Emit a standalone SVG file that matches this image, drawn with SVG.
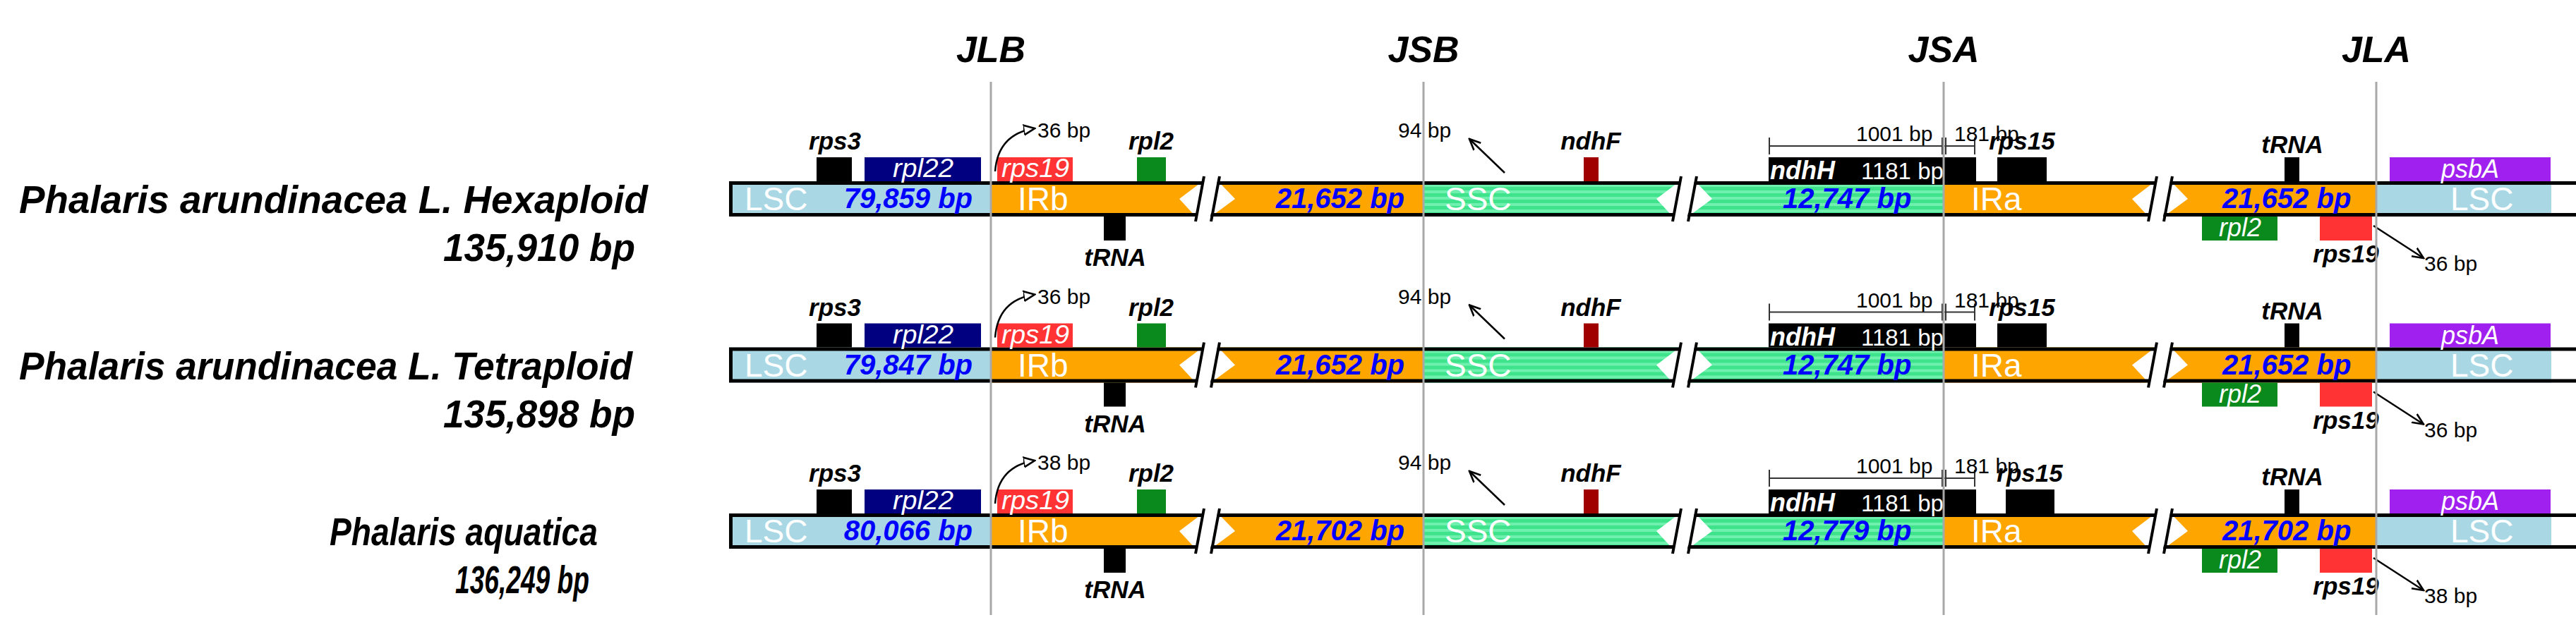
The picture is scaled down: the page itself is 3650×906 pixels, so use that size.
<svg xmlns="http://www.w3.org/2000/svg" width="3650" height="906" viewBox="0 0 3650 906">
<style>
text{font-family:"Liberation Sans",Arial,Helvetica,sans-serif}
.sp{font-size:55px;font-weight:bold;font-style:italic;fill:#000}
.jn{font-size:52px;font-weight:bold;font-style:italic;fill:#000;text-anchor:middle}
.gl{font-size:35px;font-weight:bold;font-style:italic;fill:#000;text-anchor:middle}
.wl{font-size:36px;font-style:italic;fill:#fff;text-anchor:middle}
.wb{font-size:36px;font-weight:bold;font-style:italic;fill:#fff}
.wn{font-size:33px;fill:#fff}
.num{font-size:40px;font-weight:bold;font-style:italic;fill:#0000ff}
.reg{font-size:46px;fill:#fff}
.bp{font-size:30px;fill:#000}
.lsc{fill:#a9d8e4}
.ir{fill:#ffa500}
.ssc{fill:url(#sscp)}
.outl{fill:none;stroke:#000;stroke-width:5}
.gap{fill:#fff}
.sl{stroke:#000;stroke-width:4;fill:none}
.blk{fill:#000}
.navy{fill:#000080}
.red{fill:#ff3333}
.grn{fill:#0a8a1c}
.dred{fill:#a00000}
.pur{fill:#a020f0}
.arr{stroke:#000;stroke-width:2.5;fill:none}
.dim{stroke:#333;stroke-width:2;fill:none}
.jl{stroke:#a8a8a8;stroke-width:3}
</style>
<defs>
<pattern id="sscp" patternUnits="userSpaceOnUse" width="10" height="9">
<rect width="10" height="9" fill="#3ee38c"/>
<rect width="10" height="4" fill="#6ff0ae"/>
</pattern>
<marker id="ah" viewBox="0 0 10 10" refX="9" refY="5" markerWidth="7" markerHeight="7" orient="auto" markerUnits="strokeWidth">
<path d="M0,1 L9,5 L0,9" fill="none" stroke="#000" stroke-width="1.5"/>
</marker>
<marker id="ah2" viewBox="0 0 10 10" refX="9" refY="5" markerWidth="7" markerHeight="7" orient="auto" markerUnits="strokeWidth">
<path d="M0,1 L9,5 L0,9 Z" fill="#fff" stroke="#000" stroke-width="1.5"/>
</marker>
</defs>
<rect width="3650" height="906" fill="#fff"/>

<g id="junction-labels">
<text class="jn" x="1404" y="88">JLB</text>
<text class="jn" x="2017" y="88">JSB</text>
<text class="jn" x="2754" y="88">JSA</text>
<text class="jn" x="3367" y="88">JLA</text>
</g>

<!-- Row 1 -->
<g id="row1">
<g id="row1-label">
<text class="sp" x="27" y="302" textLength="891" lengthAdjust="spacingAndGlyphs">Phalaris arundinacea L. Hexaploid</text>
<text class="sp" x="628" y="370" textLength="272" lengthAdjust="spacingAndGlyphs">135,910 bp</text>
</g>
<g id="row1-bar">
<rect class="lsc" x="1033" y="257" width="371" height="50"/>
<polygon class="ir" points="1404,257 1704,257 1671,282 1694,307 1404,307"/>
<polygon class="ir" points="1726,257 2017,257 2017,307 1716,307 1750,282"/>
<polygon class="ssc" points="2017,257 2380,257 2347,282 2370,307 2017,307"/>
<polygon class="ssc" points="2402,257 2754,257 2754,307 2392,307 2426,282"/>
<polygon class="ir" points="2754,257 3054,257 3021,282 3044,307 2754,307"/>
<polygon class="ir" points="3076,257 3367,257 3367,307 3066,307 3100,282"/>
<rect class="lsc" x="3367" y="257" width="248" height="50"/>
<rect class="outl" x="1035.5" y="259.5" width="3577" height="45"/>
<polygon class="gap" points="1706,252 1726,252 1714,312 1694,312"/>
<polygon class="gap" points="2382,252 2402,252 2390,312 2370,312"/>
<polygon class="gap" points="3056,252 3076,252 3064,312 3044,312"/>
<path class="sl" d="M1706,250 L1694,314 M1728,250 L1716,314 M2382,250 L2370,314 M2404,250 L2392,314 M3056,250 L3044,314 M3078,250 L3066,314"/>
<text class="reg" x="1055" y="298">LSC</text>
<text class="num" x="1378" y="295" text-anchor="end">79,859 bp</text>
<text class="reg" x="1442" y="298">IRb</text>
<text class="num" x="1990" y="295" text-anchor="end">21,652 bp</text>
<text class="reg" x="2047" y="298">SSC</text>
<text class="num" x="2526" y="295">12,747 bp</text>
<text class="reg" x="2793" y="298">IRa</text>
<text class="num" x="3149" y="295">21,652 bp</text>
<text class="reg" x="3472" y="298">LSC</text>
</g>
<g id="row1-rps3"><rect class="blk" x="1157" y="223" width="50" height="34"/><text class="gl" x="1183" y="212">rps3</text></g>
<g id="row1-rpl22"><rect class="navy" x="1225" y="223" width="165" height="34"/><text class="wl" x="1308" y="251" textLength="86" lengthAdjust="spacingAndGlyphs">rpl22</text></g>
<g id="row1-rps19a"><rect class="red" x="1413" y="223" width="107" height="34"/><text class="wl" x="1467" y="251" textLength="96" lengthAdjust="spacingAndGlyphs">rps19</text></g>
<g id="row1-rpl2a"><rect class="grn" x="1611" y="223" width="41" height="34"/><text class="gl" x="1631" y="212">rpl2</text></g>
<g id="row1-trnaa"><rect class="blk" x="1564" y="307" width="31" height="34"/><text class="gl" x="1580" y="377">tRNA</text></g>
<g id="row1-ndhF"><rect class="dred" x="2244" y="223" width="21" height="34"/><text class="gl" x="2254" y="212">ndhF</text></g>
<g id="row1-ndhH"><rect class="blk" x="2506" y="223" width="294" height="34"/><text class="wb" x="2508" y="254">ndhH</text><text class="wn" x="2637" y="254">1181 bp</text></g>
<g id="row1-rps15"><rect class="blk" x="2830" y="223" width="70" height="34"/><text class="gl" x="2865" y="212">rps15</text></g>
<g id="row1-trnab"><rect class="blk" x="3237" y="223" width="21" height="34"/><text class="gl" x="3248" y="217">tRNA</text></g>
<g id="row1-psbA"><rect class="pur" x="3386" y="223" width="228" height="34"/><text class="wl" x="3500" y="252">psbA</text></g>
<g id="row1-rpl2b"><rect class="grn" x="3120" y="307" width="107" height="34"/><text class="wl" x="3174" y="335">rpl2</text></g>
<g id="row1-rps19b"><rect class="red" x="3287" y="307" width="74" height="34"/><text class="gl" x="3324" y="372">rps19</text></g>
<g id="row1-annot">
<path class="arr" d="M1410,243 Q1414,190 1466,182" marker-end="url(#ah2)"/>
<text class="bp" x="1470" y="195">36 bp</text>
<text class="bp" x="1981" y="195">94 bp</text>
<path class="arr" d="M2132,245 L2082,197" marker-end="url(#ah)"/>
<path class="dim" d="M2507,207 L2798,207 M2507,195 L2507,219 M2752,195 L2752,219 M2757,195 L2757,219 M2798,195 L2798,219"/>
<text class="bp" x="2630" y="200">1001 bp</text>
<text class="bp" x="2769" y="200">181 bp</text>
<path class="arr" d="M3363,320 L3434,366" marker-end="url(#ah)"/>
<text class="bp" x="3435" y="384">36 bp</text>
</g>
</g>

<!-- Row 2 -->
<g id="row2" transform="translate(0,235.5)">
<g id="row2-label">
<text class="sp" x="27" y="302" textLength="869" lengthAdjust="spacingAndGlyphs">Phalaris arundinacea L. Tetraploid</text>
<text class="sp" x="628" y="370" textLength="272" lengthAdjust="spacingAndGlyphs">135,898 bp</text>
</g>
<g id="row2-bar">
<rect class="lsc" x="1033" y="257" width="371" height="50"/>
<polygon class="ir" points="1404,257 1704,257 1671,282 1694,307 1404,307"/>
<polygon class="ir" points="1726,257 2017,257 2017,307 1716,307 1750,282"/>
<polygon class="ssc" points="2017,257 2380,257 2347,282 2370,307 2017,307"/>
<polygon class="ssc" points="2402,257 2754,257 2754,307 2392,307 2426,282"/>
<polygon class="ir" points="2754,257 3054,257 3021,282 3044,307 2754,307"/>
<polygon class="ir" points="3076,257 3367,257 3367,307 3066,307 3100,282"/>
<rect class="lsc" x="3367" y="257" width="248" height="50"/>
<rect class="outl" x="1035.5" y="259.5" width="3577" height="45"/>
<polygon class="gap" points="1706,252 1726,252 1714,312 1694,312"/>
<polygon class="gap" points="2382,252 2402,252 2390,312 2370,312"/>
<polygon class="gap" points="3056,252 3076,252 3064,312 3044,312"/>
<path class="sl" d="M1706,250 L1694,314 M1728,250 L1716,314 M2382,250 L2370,314 M2404,250 L2392,314 M3056,250 L3044,314 M3078,250 L3066,314"/>
<text class="reg" x="1055" y="298">LSC</text>
<text class="num" x="1378" y="295" text-anchor="end">79,847 bp</text>
<text class="reg" x="1442" y="298">IRb</text>
<text class="num" x="1990" y="295" text-anchor="end">21,652 bp</text>
<text class="reg" x="2047" y="298">SSC</text>
<text class="num" x="2526" y="295">12,747 bp</text>
<text class="reg" x="2793" y="298">IRa</text>
<text class="num" x="3149" y="295">21,652 bp</text>
<text class="reg" x="3472" y="298">LSC</text>
</g>
<g id="row2-rps3"><rect class="blk" x="1157" y="223" width="50" height="34"/><text class="gl" x="1183" y="212">rps3</text></g>
<g id="row2-rpl22"><rect class="navy" x="1225" y="223" width="165" height="34"/><text class="wl" x="1308" y="251" textLength="86" lengthAdjust="spacingAndGlyphs">rpl22</text></g>
<g id="row2-rps19a"><rect class="red" x="1413" y="223" width="107" height="34"/><text class="wl" x="1467" y="251" textLength="96" lengthAdjust="spacingAndGlyphs">rps19</text></g>
<g id="row2-rpl2a"><rect class="grn" x="1611" y="223" width="41" height="34"/><text class="gl" x="1631" y="212">rpl2</text></g>
<g id="row2-trnaa"><rect class="blk" x="1564" y="307" width="31" height="34"/><text class="gl" x="1580" y="377">tRNA</text></g>
<g id="row2-ndhF"><rect class="dred" x="2244" y="223" width="21" height="34"/><text class="gl" x="2254" y="212">ndhF</text></g>
<g id="row2-ndhH"><rect class="blk" x="2506" y="223" width="294" height="34"/><text class="wb" x="2508" y="254">ndhH</text><text class="wn" x="2637" y="254">1181 bp</text></g>
<g id="row2-rps15"><rect class="blk" x="2830" y="223" width="70" height="34"/><text class="gl" x="2865" y="212">rps15</text></g>
<g id="row2-trnab"><rect class="blk" x="3237" y="223" width="21" height="34"/><text class="gl" x="3248" y="217">tRNA</text></g>
<g id="row2-psbA"><rect class="pur" x="3386" y="223" width="228" height="34"/><text class="wl" x="3500" y="252">psbA</text></g>
<g id="row2-rpl2b"><rect class="grn" x="3120" y="307" width="107" height="34"/><text class="wl" x="3174" y="335">rpl2</text></g>
<g id="row2-rps19b"><rect class="red" x="3287" y="307" width="74" height="34"/><text class="gl" x="3324" y="372">rps19</text></g>
<g id="row2-annot">
<path class="arr" d="M1410,243 Q1414,190 1466,182" marker-end="url(#ah2)"/>
<text class="bp" x="1470" y="195">36 bp</text>
<text class="bp" x="1981" y="195">94 bp</text>
<path class="arr" d="M2132,245 L2082,197" marker-end="url(#ah)"/>
<path class="dim" d="M2507,207 L2798,207 M2507,195 L2507,219 M2752,195 L2752,219 M2757,195 L2757,219 M2798,195 L2798,219"/>
<text class="bp" x="2630" y="200">1001 bp</text>
<text class="bp" x="2769" y="200">181 bp</text>
<path class="arr" d="M3363,320 L3434,366" marker-end="url(#ah)"/>
<text class="bp" x="3435" y="384">36 bp</text>
</g>
</g>

<!-- Row 3 -->
<g id="row3" transform="translate(0,471)">
<g id="row3-label">
<text class="sp" x="467" y="302" textLength="380" lengthAdjust="spacingAndGlyphs">Phalaris aquatica</text>
<text class="sp" x="645" y="370" textLength="190" lengthAdjust="spacingAndGlyphs">136,249 bp</text>
</g>
<g id="row3-bar">
<rect class="lsc" x="1033" y="257" width="371" height="50"/>
<polygon class="ir" points="1404,257 1704,257 1671,282 1694,307 1404,307"/>
<polygon class="ir" points="1726,257 2017,257 2017,307 1716,307 1750,282"/>
<polygon class="ssc" points="2017,257 2380,257 2347,282 2370,307 2017,307"/>
<polygon class="ssc" points="2402,257 2754,257 2754,307 2392,307 2426,282"/>
<polygon class="ir" points="2754,257 3054,257 3021,282 3044,307 2754,307"/>
<polygon class="ir" points="3076,257 3367,257 3367,307 3066,307 3100,282"/>
<rect class="lsc" x="3367" y="257" width="248" height="50"/>
<rect class="outl" x="1035.5" y="259.5" width="3577" height="45"/>
<polygon class="gap" points="1706,252 1726,252 1714,312 1694,312"/>
<polygon class="gap" points="2382,252 2402,252 2390,312 2370,312"/>
<polygon class="gap" points="3056,252 3076,252 3064,312 3044,312"/>
<path class="sl" d="M1706,250 L1694,314 M1728,250 L1716,314 M2382,250 L2370,314 M2404,250 L2392,314 M3056,250 L3044,314 M3078,250 L3066,314"/>
<text class="reg" x="1055" y="298">LSC</text>
<text class="num" x="1378" y="295" text-anchor="end">80,066 bp</text>
<text class="reg" x="1442" y="298">IRb</text>
<text class="num" x="1990" y="295" text-anchor="end">21,702 bp</text>
<text class="reg" x="2047" y="298">SSC</text>
<text class="num" x="2526" y="295">12,779 bp</text>
<text class="reg" x="2793" y="298">IRa</text>
<text class="num" x="3149" y="295">21,702 bp</text>
<text class="reg" x="3472" y="298">LSC</text>
</g>
<g id="row3-rps3"><rect class="blk" x="1157" y="223" width="50" height="34"/><text class="gl" x="1183" y="212">rps3</text></g>
<g id="row3-rpl22"><rect class="navy" x="1225" y="223" width="165" height="34"/><text class="wl" x="1308" y="251" textLength="86" lengthAdjust="spacingAndGlyphs">rpl22</text></g>
<g id="row3-rps19a"><rect class="red" x="1413" y="223" width="107" height="34"/><text class="wl" x="1467" y="251" textLength="96" lengthAdjust="spacingAndGlyphs">rps19</text></g>
<g id="row3-rpl2a"><rect class="grn" x="1611" y="223" width="41" height="34"/><text class="gl" x="1631" y="212">rpl2</text></g>
<g id="row3-trnaa"><rect class="blk" x="1564" y="307" width="31" height="34"/><text class="gl" x="1580" y="377">tRNA</text></g>
<g id="row3-ndhF"><rect class="dred" x="2244" y="223" width="21" height="34"/><text class="gl" x="2254" y="212">ndhF</text></g>
<g id="row3-ndhH"><rect class="blk" x="2506" y="223" width="294" height="34"/><text class="wb" x="2508" y="254">ndhH</text><text class="wn" x="2637" y="254">1181 bp</text></g>
<g id="row3-rps15"><rect class="blk" x="2842" y="223" width="69" height="34"/><text class="gl" x="2876" y="212">rps15</text></g>
<g id="row3-trnab"><rect class="blk" x="3237" y="223" width="21" height="34"/><text class="gl" x="3248" y="217">tRNA</text></g>
<g id="row3-psbA"><rect class="pur" x="3386" y="223" width="228" height="34"/><text class="wl" x="3500" y="252">psbA</text></g>
<g id="row3-rpl2b"><rect class="grn" x="3120" y="307" width="107" height="34"/><text class="wl" x="3174" y="335">rpl2</text></g>
<g id="row3-rps19b"><rect class="red" x="3287" y="307" width="74" height="34"/><text class="gl" x="3324" y="372">rps19</text></g>
<g id="row3-annot">
<path class="arr" d="M1410,243 Q1414,190 1466,182" marker-end="url(#ah2)"/>
<text class="bp" x="1470" y="195">38 bp</text>
<text class="bp" x="1981" y="195">94 bp</text>
<path class="arr" d="M2132,245 L2082,197" marker-end="url(#ah)"/>
<path class="dim" d="M2507,207 L2798,207 M2507,195 L2507,219 M2752,195 L2752,219 M2757,195 L2757,219 M2798,195 L2798,219"/>
<text class="bp" x="2630" y="200">1001 bp</text>
<text class="bp" x="2769" y="200">181 bp</text>
<path class="arr" d="M3363,320 L3434,366" marker-end="url(#ah)"/>
<text class="bp" x="3435" y="384">38 bp</text>
</g>
</g>

<g id="junction-lines">
<line class="jl" x1="1404" y1="116" x2="1404" y2="872"/>
<line class="jl" x1="2017" y1="116" x2="2017" y2="872"/>
<line class="jl" x1="2754" y1="116" x2="2754" y2="872"/>
<line class="jl" x1="3367" y1="116" x2="3367" y2="872"/>
</g>
</svg>
